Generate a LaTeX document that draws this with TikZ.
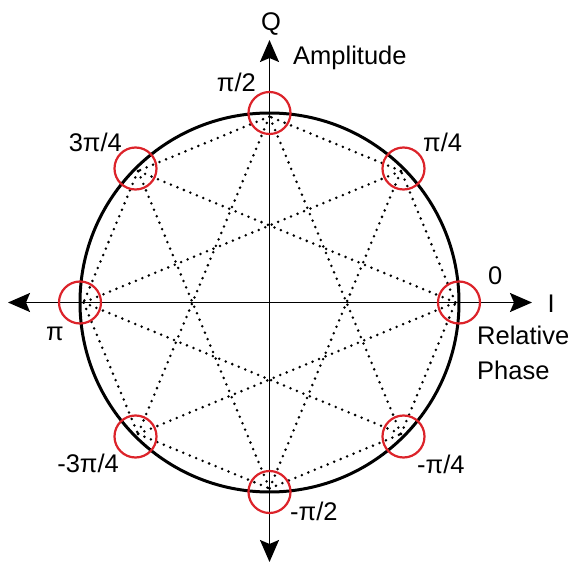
\documentclass[tikz,border=0pt]{standalone}
\usepackage{fontspec}
\setmainfont{Liberation Sans}
\usetikzlibrary{arrows.meta}
\definecolor{ringred}{RGB}{220,35,42}
\tikzset{
  lbl/.style={font=\fontsize{25.5}{35}\selectfont, inner sep=0pt},
  axisline/.style={line width=1.8pt,
    {Stealth[length=22pt, width=19pt, inset=4pt]}-{Stealth[length=22pt, width=19pt, inset=4pt]}},
  ring/.style={circle, draw=ringred, line width=2.2pt, minimum size=42pt, inner sep=0pt},
  dots/.style={line width=2.8pt, line cap=round, dash pattern=on 0pt off 7pt},
}

\begin{document}
\begin{tikzpicture}[x=1pt,y=1pt]
    \useasboundingbox (-269.5,-264.5) rectangle (302.5,302.5);
    \coordinate (o) at (0,0);
    % axes
    \coordinate (west) at (-261.5,0);
    \coordinate (east) at (262.5,0);
    \coordinate (north) at (0,262.5);
    \coordinate (south) at (0,-259.5);
    \draw[axisline] (west) -- (east);
    \draw[axisline] (south) -- (north);
    % unit circle
    \draw[line width=3pt] (o) circle (189.5);
    % dotted octagon and star
    \foreach \k in {0,...,7}
      \coordinate (p\k) at (\k*45:186);
    \foreach \k in {0,...,7} {
      \pgfmathtruncatemacro\na{mod(\k+1,8)}
      \pgfmathtruncatemacro\nb{mod(\k+3,8)}
      \draw[dots] (p\k) -- (p\na);
      \draw[dots] (p\k) -- (p\nb);
    }
    % symbol points
    \foreach \k in {0,...,7}
      \node[ring] (s\k) at (\k*45:189.5) {};
    % labels
    \node[lbl, anchor=base] (q) at (1.5,271.5) {Q};
    \node[lbl, anchor=base west] (amp) at (23.5,237.5) {Amplitude};
    \node[lbl, anchor=base west] (i) at (278,-9.5) {I};
    \node[lbl, anchor=north west, align=left] (phase) at (207.5,-23.5) {Relative\\Phase};
    \node[lbl, anchor=base west] (l0) at (218.5,17.5) {0};
    \node[lbl, anchor=base west] (l1) at (153.5,150.5) {π/4};
    \node[lbl, anchor=base east] (l2) at (-13.5,210.5) {π/2};
    \node[lbl, anchor=base east] (l3) at (-147.5,150.5) {3π/4};
    \node[lbl, anchor=base west] (l4) at (-223.5,-37.5) {π};
    \node[lbl, anchor=base east] (l5) at (-150.5,-169.5) {-3π/4};
    \node[lbl, anchor=base west] (l6) at (20.5,-217.5) {-π/2};
    \node[lbl, anchor=base west] (l7) at (147.5,-170.5) {-π/4};
\end{tikzpicture}
\end{document}
